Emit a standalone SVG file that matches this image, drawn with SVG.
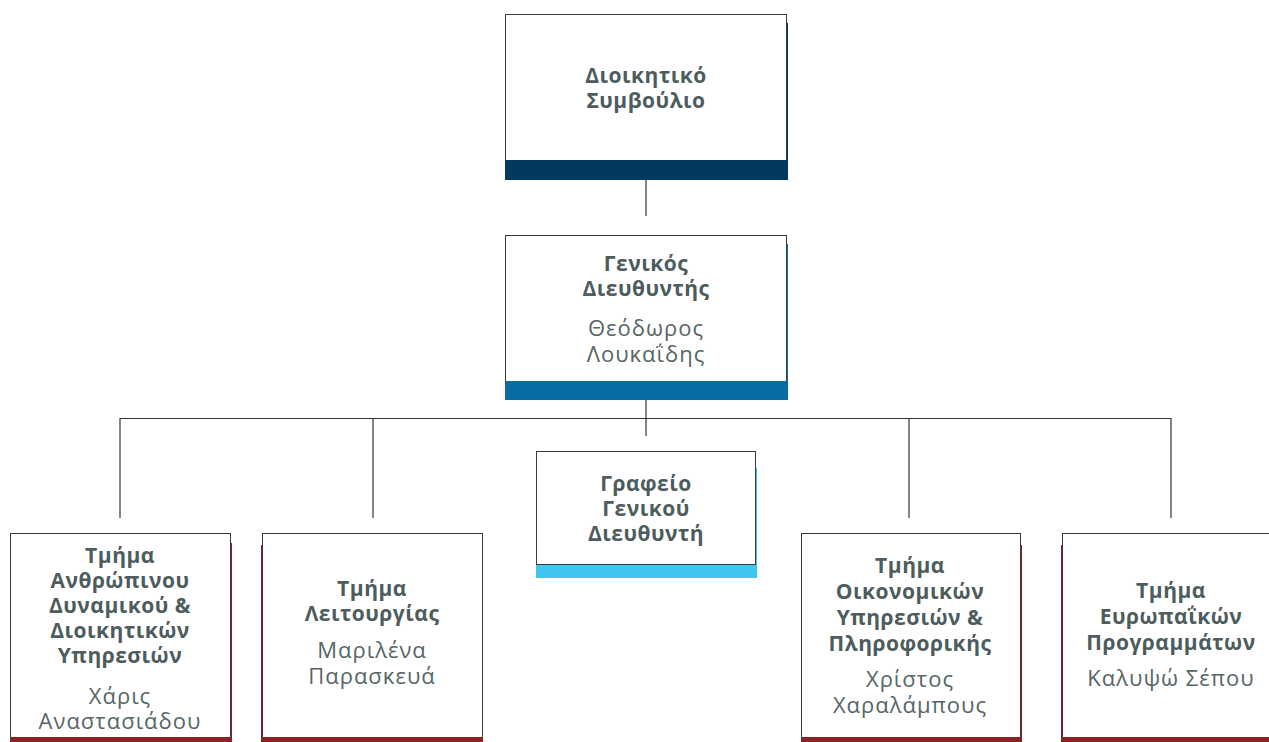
<svg xmlns="http://www.w3.org/2000/svg" width="1269" height="742" viewBox="0 0 1269 742">
<style>
.box{fill:#fff;stroke:#3a3a3a;stroke-width:1}
.t{font-family:"Open Sans","Noto Sans",sans-serif;text-anchor:middle;fill:#4d5c5c}
.b{font-weight:700;font-size:21px;letter-spacing:0.5px}
.r{font-weight:400;font-size:22px;letter-spacing:1px;fill:#566666}
.ln{stroke:#333;stroke-width:1.2;fill:none}
.navy{fill:#04385e}.blue{fill:#066ca2}.sky{fill:#3ec5f1}.red{fill:#8c2226}
</style>
<rect width="1269" height="742" fill="#fff"/>
<g id="connectors">
<line class="ln" x1="646" y1="180" x2="646" y2="216"/>
<line class="ln" x1="646" y1="400" x2="646" y2="436"/>
<line class="ln" x1="120" y1="418.5" x2="1171" y2="418.5"/>
<line class="ln" x1="120" y1="418" x2="120" y2="518"/>
<line class="ln" x1="373" y1="418" x2="373" y2="518"/>
<line class="ln" x1="909" y1="418" x2="909" y2="518"/>
<line class="ln" x1="1171" y1="418" x2="1171" y2="518"/>
</g>
<g id="board">
<rect class="navy" x="507" y="23" width="281" height="157"/>
<rect class="box" x="505.5" y="14.5" width="281" height="146"/>
<rect class="navy" x="505" y="160" width="283" height="20"/>
<text class="t b" x="646" y="83">Διοικητικό</text>
<text class="t b" x="646" y="108">Συμβούλιο</text>
</g>
<g id="gm">
<rect class="blue" x="507" y="244" width="281" height="156"/>
<rect class="box" x="505.5" y="235.5" width="281" height="146"/>
<rect class="blue" x="505" y="381" width="283" height="19"/>
<text class="t b" x="646" y="271">Γενικός</text>
<text class="t b" x="646" y="296">Διευθυντής</text>
<text class="t r" x="646" y="336">Θεόδωρος</text>
<text class="t r" x="646" y="362">Λουκαΐδης</text>
</g>
<g id="office">
<rect class="sky" x="538" y="468" width="219" height="110"/>
<rect class="box" x="536.5" y="451.5" width="219" height="113"/>
<rect class="sky" x="536" y="565" width="221" height="13"/>
<text class="t b" x="646" y="491">Γραφείο</text>
<text class="t b" x="646" y="516">Γενικού</text>
<text class="t b" x="646" y="541">Διευθυντή</text>
</g>
<g id="hr">
<rect class="red" x="12" y="543" width="220" height="199"/>
<rect class="box" x="10.5" y="533.5" width="220" height="204"/>
<rect class="red" x="10" y="737" width="222" height="5"/>
<text class="t b" x="120" y="563">Τμήμα</text>
<text class="t b" x="120" y="588">Ανθρώπινου</text>
<text class="t b" x="120" y="613">Δυναμικού &amp;</text>
<text class="t b" x="120" y="638">Διοικητικών</text>
<text class="t b" x="120" y="663">Υπηρεσιών</text>
<text class="t r" x="120" y="704">Χάρις</text>
<text class="t r" x="120" y="729">Αναστασιάδου</text>
</g>
<g id="ops">
<rect class="red" x="261" y="545" width="220" height="197"/>
<rect class="box" x="262.5" y="533.5" width="220" height="204"/>
<rect class="red" x="262" y="737" width="221" height="5"/>
<text class="t b" x="372" y="596">Τμήμα</text>
<text class="t b" x="372" y="621">Λειτουργίας</text>
<text class="t r" x="372" y="658">Μαριλένα</text>
<text class="t r" x="372" y="684">Παρασκευά</text>
</g>
<g id="finance">
<rect class="red" x="803" y="545" width="219" height="197"/>
<rect class="box" x="801.5" y="533.5" width="219" height="204"/>
<rect class="red" x="801" y="737" width="221" height="5"/>
<text class="t b" x="910" y="573">Τμήμα</text>
<text class="t b" x="910" y="599">Οικονομικών</text>
<text class="t b" x="910" y="625">Υπηρεσιών &amp;</text>
<text class="t b" x="910" y="651">Πληροφορικής</text>
<text class="t r" x="910" y="687">Χρίστος</text>
<text class="t r" x="910" y="713">Χαραλάμπους</text>
</g>
<g id="eu">
<rect class="red" x="1061" y="545" width="220" height="197"/>
<rect class="box" x="1062.5" y="533.5" width="220" height="204"/>
<rect class="red" x="1062" y="737" width="221" height="5"/>
<text class="t b" x="1171" y="598">Τμήμα</text>
<text class="t b" x="1171" y="624">Ευρωπαΐκών</text>
<text class="t b" x="1171" y="650">Προγραμμάτων</text>
<text class="t r" x="1171" y="686">Καλυψώ Σέπου</text>
</g>
</svg>
